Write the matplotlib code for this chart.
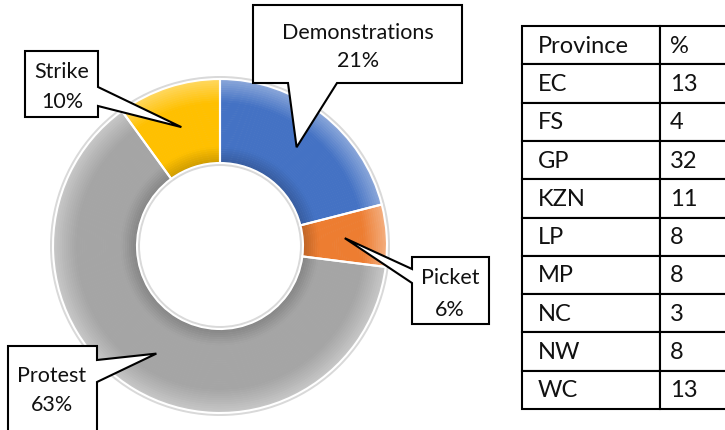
import matplotlib
matplotlib.use('Agg')
import matplotlib.pyplot as plt
from matplotlib.patches import Wedge, Polygon
from matplotlib.colors import to_rgb
import numpy as np

plt.rcParams['font.family'] = ['Lato', 'DejaVu Sans']

# data
event_types = ['Demonstrations', 'Picket', 'Protest', 'Strike']
event_pct = [21, 6, 63, 10]
event_colors = ['#4472C4', '#ED7D31', '#A5A5A5', '#FFC000']

provinces = ['EC', 'FS', 'GP', 'KZN', 'LP', 'MP', 'NC', 'NW', 'WC']
province_pct = [13, 4, 32, 11, 8, 8, 3, 8, 13]

W, H = 725, 431
fig = plt.figure(figsize=(7.25, 4.31), dpi=100)
ax = fig.add_axes([0, 0, 1, 1])

cx, cy = 220, H - 247
R_out, R_in = 167, 83

wedges, _ = ax.pie(event_pct, colors=event_colors, startangle=90, counterclock=False,
                   radius=R_out, center=(cx, cy),
                   wedgeprops=dict(width=R_out - R_in, edgecolor='white', linewidth=1.5))
ax.set_xlim(0, W)
ax.set_ylim(0, H)
ax.set_aspect('equal')
ax.axis('off')

# light rim around the ring
ax.add_patch(Wedge((cx, cy), R_out + 3, 0, 360, width=R_out + 3 - R_in + 3,
                   color='#D9D9D9', lw=0, zorder=0))


def shade(col, amt):
    c = np.array(to_rgb(col))
    if amt >= 0:
        return tuple(c + (1 - c) * amt)
    return tuple(c * (1 + amt))


# bevel look: lighter outer band, darker inner edge
n = 40
for w, col in zip(wedges, event_colors):
    for k in range(n):
        r0 = R_in + (R_out - R_in) * k / n
        r1 = R_in + (R_out - R_in) * (k + 1) / n
        f = (k + 0.5) / n
        if f > 0.72:
            amt = (f - 0.72) / 0.28 * 0.38
        elif f < 0.2:
            amt = -(0.2 - f) / 0.2 * 0.2
        else:
            amt = 0
        ax.add_patch(Wedge((cx, cy), r1 + 0.3, w.theta1, w.theta2, width=r1 - r0 + 0.6,
                           color=shade(col, amt), lw=0, zorder=1))
    w.set_facecolor('none')
    w.set_zorder(3)

# callouts: box in image px (x0, y0, x1, y1), side of pointer, pointer base, text centre
callout_boxes = [(253, 6, 462, 84), (412, 258, 489, 325), (8, 347, 97, 440), (25, 52, 98, 118)]
callout_sides = ['bottom', 'left', 'right', 'right']
callout_bases = [(288, 337), (270, 284), (361, 383), (88, 107)]
callout_text = [(358, 33, 61), (450, 278, 310), (52, 376, 405), (62, 72, 102)]

r_tip = (R_in + R_out) / 2
for w, name, pct, box, side, base, txt in zip(wedges, event_types, event_pct, callout_boxes,
                                               callout_sides, callout_bases, callout_text):
    ang = np.deg2rad((w.theta1 + w.theta2) / 2)
    tip = (cx + r_tip * np.cos(ang), cy + r_tip * np.sin(ang))
    x0, y0, x1, y1 = box
    top, bot = H - y0, H - y1
    a, b = base
    if side == 'bottom':
        verts = [(x0, top), (x1, top), (x1, bot), (b, bot), tip, (a, bot), (x0, bot)]
    elif side == 'right':
        verts = [(x0, top), (x1, top), (x1, H - a), tip, (x1, H - b), (x1, bot), (x0, bot)]
    else:
        verts = [(x0, top), (x1, top), (x1, bot), (x0, bot), (x0, H - b), tip, (x0, H - a)]
    ax.add_patch(Polygon(verts, closed=True, fc='white', ec='black', lw=1.5, zorder=5))
    tx, ty1, ty2 = txt
    ax.text(tx, H - ty1, name, ha='center', va='center', fontsize=15.5, color='#111111', zorder=6)
    ax.text(tx, H - ty2, f'{pct}%', ha='center', va='center', fontsize=15.5, color='#111111', zorder=6)

# province table
tbl = ax.table(cellText=[[p, str(v)] for p, v in zip(provinces, province_pct)],
               colLabels=['Province', '%'], colWidths=[135 / 205, 70 / 205],
               cellLoc='left', colLoc='left',
               bbox=[522 / W, (H - 410) / H, 209 / W, 383 / H])
tbl.auto_set_font_size(False)
tbl.set_fontsize(17)
for (r, c), cell in tbl.get_celld().items():
    cell.set_linewidth(1.5)
    cell.PAD = 16 / 137 if c == 0 else 10 / 72
    cell.get_text().set_color('#111111')

fig.savefig('out.png', dpi=100, facecolor='white')
